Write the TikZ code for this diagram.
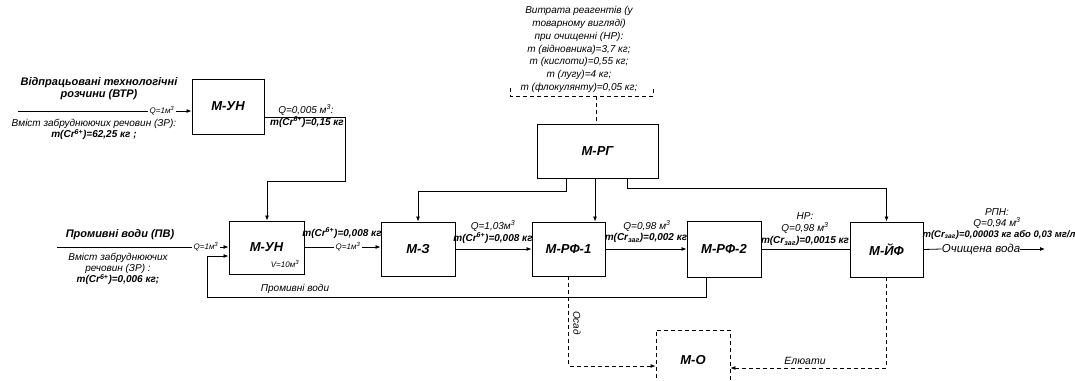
\documentclass[tikz,border=0pt]{standalone}
\usepackage{fontspec}
\setmainfont{Liberation Sans}
\usetikzlibrary{arrows.meta}

\tikzset{
  blk/.style={draw, line width=0.9pt, inner sep=0pt,
    font=\fontsize{13}{15}\selectfont\bfseries\itshape},
  lbl/.style={font=\fontsize{10}{11}\selectfont\itshape, inner sep=0pt, align=center},
  lblb/.style={font=\fontsize{10}{11}\selectfont\bfseries\itshape, inner sep=0pt, align=center},
  ttl/.style={font=\fontsize{11}{11.5}\selectfont\bfseries\itshape, inner sep=0pt, align=center},
  qlbl/.style={font=\fontsize{8}{9}\selectfont\itshape, inner sep=1.5pt},
  plain/.style={line width=0.8pt},
  flow/.style={line width=0.8pt, -{Latex[length=5pt,width=4pt]}},
  dline/.style={line width=0.8pt, dash pattern=on 4pt off 3pt},
  dflow/.style={dline, -{Latex[length=5pt,width=4pt]}},
}

\begin{document}
\begin{tikzpicture}[x=1pt, y=-1pt]
\useasboundingbox (0,0) rectangle (1075,380);
\clip (0,0) rectangle (1075,380);

% ---------- process blocks ----------
\node[blk, minimum width=72pt, minimum height=55pt] (un1) at (228,106.5) {М-УН};
\node[blk, minimum width=75pt, minimum height=53pt] (un2) at (266.5,247.5) {М-УН};
\node[blk, minimum width=74pt, minimum height=54pt] (z)   at (418,249) {М-З};
\node[blk, minimum width=73pt, minimum height=54pt] (rf1) at (568.5,249) {М-РФ-1};
\node[blk, minimum width=74pt, minimum height=56pt] (rf2) at (724,249) {М-РФ-2};
\node[blk, minimum width=73pt, minimum height=55pt] (yf)  at (886.5,249.5) {М-ЙФ};
\node[blk, minimum width=121pt, minimum height=54pt] (rg) at (597.5,151) {М-РГ};
\node[blk, dline, minimum width=74pt, minimum height=60pt] (mo) at (693,360) {М-О};

% ---------- spent process solutions (top left) ----------
\node[ttl] (vtr) at (99,88.5) {Відпрацьовані технологічні\\розчини (ВТР)};
\node[lbl, font=\fontsize{10}{11}\selectfont\itshape] (zr1) at (94,129.5)
  {Вміст забруднюючих речовин (ЗР):\\\textbf{m(Cr\textsuperscript{6+})=62,25 кг ;}};
\coordinate (in1) at (18,111);
\node[qlbl] (q1) at (162,111) {Q=1м\textsuperscript{3}};
\draw[plain] (in1) -- (q1.west);
\draw[flow] (q1.east) -- (un1.west |- q1.east);

% concentrate from the first unit to the second one
\draw[flow] ([yshift=-10.5pt]un1.east) -- (345,117) -- (345,181) -- (267,181) -- (un2.north -| 267,0);
\node[lbl] (c1) at (306,110) {Q=0,005 м\textsuperscript{3}:};
\node[lblb] (c2) at (307,122) {m(Cr\textsuperscript{6+})=0,15 кг};

% ---------- rinse water (bottom left) ----------
\node[ttl] (pv) at (120,235) {Промивні води (ПВ)};
\node[lbl, font=\fontsize{10}{11}\selectfont\itshape] (zr2) at (118,269)
  {Вміст забруднюючих\\речовин (ЗР) :\\\textbf{m(Cr\textsuperscript{6+})=0,006 кг;}};
\coordinate (in2) at (57,247);
\node[qlbl] (q2) at (206,247) {Q=1м\textsuperscript{3}};
\draw[plain] (in2) -- (q2.west);
\draw[flow] (q2.east) -- (un2.west |- q2.east);
\node[qlbl] (v) at (285,264) {V=10м\textsuperscript{3}};

% second unit -> М-З
\node[qlbl] (q3) at (348,247) {Q=1м\textsuperscript{3}};
\draw[plain] (un2.east |- q3.west) -- (q3.west);
\draw[flow] (q3.east) -- (z.west |- q3.east);
\node[lblb] (c3) at (342,233) {m(Cr\textsuperscript{6+})=0,008 кг};

% rinse water return loop
\draw[flow] (rf2.south -| 706,0) -- (706,297) -- (207,297) -- (207,256) -- (un2.west |- 0,256);
\node[lbl] (pvr) at (295,289) {Промивні води};

% М-З -> М-РФ-1
\draw[flow] (z.east) -- (rf1.west);
\node[lbl] (c4) at (493,226) {Q=1,03м\textsuperscript{3}};
\node[lblb] (c5) at (493,238) {m(Cr\textsuperscript{6+})=0,008 кг};

% М-РФ-1 -> М-РФ-2
\draw[flow] (rf1.east) -- (rf2.west |- rf1.east);
\node[lbl] (c6) at (647,226) {Q=0,98 м\textsuperscript{3}};
\node[lblb] (c7) at (646,238) {m(Cr\textsubscript{заг})=0,002 кг};

% М-РФ-2 -> М-ЙФ
\draw[plain] (rf2.east) -- (yf.west |- rf2.east);
\node[lbl] (c8) at (805,216) {НР:};
\node[lbl] (c9) at (805,228) {Q=0,98 м\textsuperscript{3}};
\node[lblb] (c10) at (805,241) {m(Cr\textsubscript{заг})=0,0015 кг};

% treated water outlet
\node[lbl, font=\fontsize{11.5}{13}\selectfont\itshape] (ov) at (981,249) {Очищена вода};
\coordinate (out) at (1045,249);
\draw[plain] (yf.east) -- (ov.west);
\draw[flow] (ov.east) -- (out);
\node[lbl] (c11) at (997,212) {РПН:};
\node[lbl] (c12) at (997,223) {Q=0,94 м\textsuperscript{3}};
\node[lblb, font=\fontsize{9.5}{11}\selectfont\bfseries\itshape] (c13) at (999,235) {m(Cr\textsubscript{заг})=0,00003 кг або 0,03 мг/л};

% ---------- reagent preparation ----------
\node[lbl, font=\fontsize{10}{12.8}\selectfont\itshape] (reag) at (579,49.5)
  {Витрата реагентів (у\\товарному вигляді)\\при очищенні (НР):\\m (відновника)=3,7 кг;\\m (кислоти)=0,55 кг;\\m (лугу)=4 кг;\\m (флокулянту)=0,05 кг;};
\draw[dline] (510,88) -- (510,96) -- (653,96) -- (653,88);
\coordinate (brk) at (596,96);
\draw[dline] (brk) -- (rg.north -| brk);

\draw[flow] (rg.south -| 566,0) -- (566,191) -- (418,191) -- (z.north);
\draw[flow] (rg.south -| 595,0) -- (rf1.north -| 595,0);
\draw[flow] (rg.south -| 627,0) -- (627,188) -- (yf.north |- 0,188) -- (yf.north);

% ---------- sludge and eluates ----------
\draw[dflow] (rf1.south) -- (rf1.south |- 0,366) -- (mo.west |- 0,366);
\node[lbl, rotate=-90] (os) at (577,323) {Осад};
\draw[dflow] (yf.south) -- (yf.south |- 0,368) -- (mo.east |- 0,368);
\node[lbl, font=\fontsize{10.5}{12}\selectfont\itshape] (el) at (805,361) {Елюати};

\end{tikzpicture}
\end{document}
